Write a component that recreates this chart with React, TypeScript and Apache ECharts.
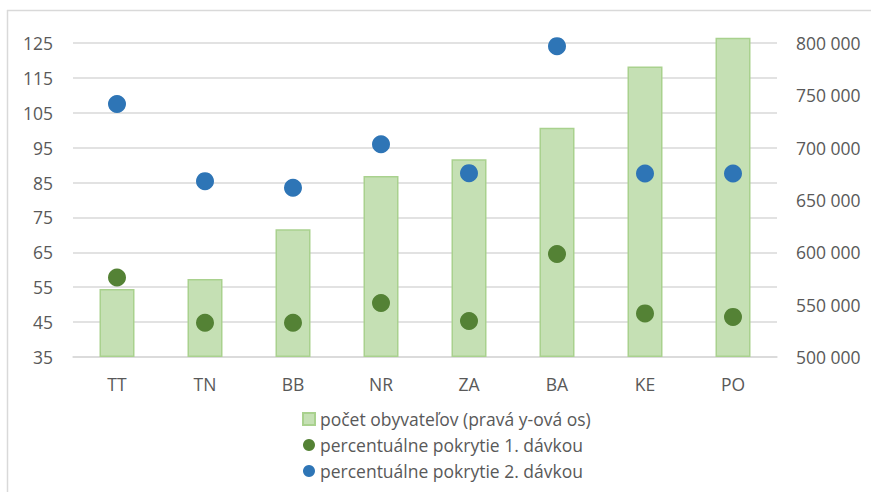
import React, { useEffect, useRef } from "react";
import * as echarts from "echarts";

const categories = ["TT", "TN", "BB", "NR", "ZA", "BA", "KE", "PO"];
const population = [565000, 574500, 622000, 673000, 689000, 719000, 777500, 805000];
const dose1 = [57.8, 44.8, 44.8, 50.5, 45.3, 64.5, 47.5, 46.5];
const dose2 = [107.5, 85.4, 83.5, 96.0, 87.7, 124.1, 87.6, 87.6];
const leftTicks = { min: 35, max: 125, interval: 10 };
const rightTicks = { min: 500000, max: 800000, interval: 50000 };

const names = [
  "počet obyvateľov (pravá y-ová os)",
  "percentuálne pokrytie 1. dávkou",
  "percentuálne pokrytie 2. dávkou",
];

const FONT = "'Open Sans', 'Noto Sans', sans-serif";
const TXT = "#595959";
const FS = 17.5;

export default function App() {
  const ref = useRef<HTMLDivElement>(null);
  useEffect(() => {
    if (!ref.current) return;
    const chart = echarts.init(ref.current, undefined, { renderer: "svg" });
    chart.setOption({
      animation: false,
      backgroundColor: "#ffffff",
      textStyle: { fontFamily: FONT, color: TXT },
      graphic: [
        { type: "line", shape: { x1: 7.5, y1: 10, x2: 7.5, y2: 492 }, style: { stroke: "#D9D9D9", lineWidth: 1.5 } },
        { type: "line", shape: { x1: 7, y1: 10.5, x2: 871, y2: 10.5 }, style: { stroke: "#D9D9D9", lineWidth: 1.5 } },
      ],
      grid: { left: 73, right: 94, top: 43, bottom: 135, containLabel: false },
      legend: {
        orient: "vertical",
        left: 297,
        top: 405,
        itemWidth: 12,
        itemHeight: 12,
        itemGap: 8,
        textStyle: { fontFamily: FONT, fontSize: FS, color: TXT },
        data: [
          { name: names[0], icon: "rect" },
          { name: names[1], icon: "circle" },
          { name: names[2], icon: "circle" },
        ],
      },
      xAxis: {
        type: "category",
        data: categories,
        axisLine: { show: true, onZero: false, lineStyle: { color: "#D9D9D9", width: 1.5 } },
        axisTick: { show: false },
        axisLabel: { color: TXT, fontFamily: FONT, fontSize: FS, margin: 18 },
      },
      yAxis: [
        {
          type: "value",
          min: leftTicks.min,
          max: leftTicks.max,
          interval: leftTicks.interval,
          axisLine: { show: false },
          axisTick: { show: false },
          splitLine: { lineStyle: { color: "#D9D9D9", width: 1.5 } },
          axisLabel: { color: TXT, fontFamily: FONT, fontSize: FS, margin: 20 },
        },
        {
          type: "value",
          min: rightTicks.min,
          max: rightTicks.max,
          interval: rightTicks.interval,
          position: "right",
          axisLine: { show: false },
          axisTick: { show: false },
          splitLine: { show: false },
          axisLabel: {
            color: TXT,
            fontFamily: FONT,
            fontSize: FS,
            margin: 19,
            formatter: (v: number) => String(v).replace(/\B(?=(\d{3})+(?!\d))/g, " "),
          },
        },
      ],
      series: [
        {
          name: "base",
          type: "bar",
          yAxisIndex: 1,
          stack: "pop",
          data: population.map(() => rightTicks.min),
          barWidth: 35,
          silent: true,
          itemStyle: { color: "transparent" },
        },
        {
          name: names[0],
          type: "bar",
          yAxisIndex: 1,
          stack: "pop",
          data: population.map((v) => v - rightTicks.min),
          barWidth: 35,
          clip: false,
          itemStyle: { color: "#C5E0B4", borderColor: "#A9D18E", borderWidth: 1.5 },
        },
        {
          name: names[1],
          type: "scatter",
          yAxisIndex: 0,
          data: dose1,
          symbolSize: 18,
          itemStyle: { color: "#548235", opacity: 1 },
        },
        {
          name: names[2],
          type: "scatter",
          yAxisIndex: 0,
          data: dose2,
          symbolSize: 18,
          itemStyle: { color: "#2E75B6", opacity: 1 },
        },
      ],
    });
    return () => chart.dispose();
  }, []);
  return (
    <div
      ref={ref}
      style={{ position: "absolute", left: 0, top: 0, width: 871, height: 492 }}
    />
  );
}
